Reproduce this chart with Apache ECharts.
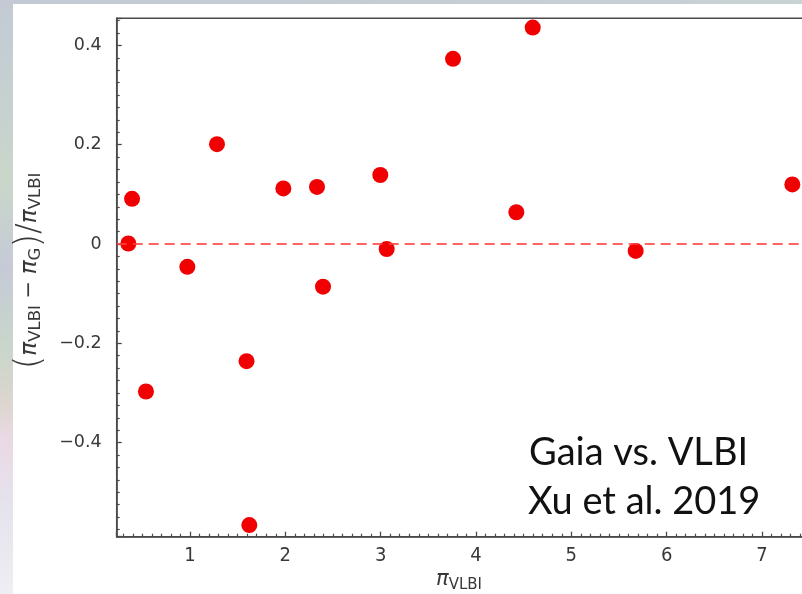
<!DOCTYPE html>
<html>
<head>
<meta charset="utf-8">
<script src="https://cdn.jsdelivr.net/npm/echarts@6/dist/echarts.min.js"></script>
<style>
  html, body { margin: 0; padding: 0; background: #ffffff; }
  #chart { width: 802px; height: 594px; }
</style>
</head>
<body>
<div id="chart"></div>
<script>
// VLBI parallax (mas) and relative parallax difference (VLBI - Gaia) / VLBI
const parallaxVLBI = [0.353, 0.392, 0.538, 0.972, 1.283, 1.593, 1.622, 1.979, 2.332,
                      2.395, 2.996, 3.063, 3.759, 4.423, 4.595, 5.675, 7.318];
const relativeDiff = [0.001, 0.091, -0.297, -0.046, 0.201, -0.236, -0.566, 0.112, 0.115,
                      -0.086, 0.139, -0.010, 0.373, 0.064, 0.436, -0.014, 0.120];

// axis ranges and labelled tick values
const xRange = [0.231, 7.6];
const yRange = [-0.5895, 0.4546];
const xTickValues = [1, 2, 3, 4, 5, 6, 7];
const yTickValues = [-0.4, -0.2, 0, 0.2, 0.4];
const zeroLevel = [0];

const points = parallaxVLBI.map((x, i) => [x, relativeDiff[i]]);

const ink = '#383838';
const frame = '#4a4a4a';

function fmtY(v) {
  const r = +v.toFixed(2);
  if (!yTickValues.some(t => Math.abs(t - r) < 1e-6)) return '';
  if (r === 0) return '0';
  return (r < 0 ? '\u2212' : '') + Math.abs(r).toFixed(1);
}
function fmtX(v) {
  const r = Math.round(v * 1000) / 1000;
  return xTickValues.includes(r) ? String(r) : '';
}

const chart = echarts.init(document.getElementById('chart'), null, { renderer: 'canvas' });

const option = {
  animation: false,
  backgroundColor: 'transparent',
  graphic: [
    // soft slide backdrop along the left and top edges
    {
      type: 'rect', z: -10, silent: true,
      shape: { x: 0, y: 0, width: 802, height: 594 },
      style: {
        fill: new echarts.graphic.LinearGradient(0, 0, 0, 1, [
          { offset: 0.0, color: '#c3cad5' },
          { offset: 0.2, color: '#c6d2cf' },
          { offset: 0.3, color: '#c9d7c9' },
          { offset: 0.45, color: '#c6cad7' },
          { offset: 0.58, color: '#c8d6cb' },
          { offset: 0.68, color: '#ddd6cf' },
          { offset: 0.74, color: '#ead9e5' },
          { offset: 0.85, color: '#e5e3ec' },
          { offset: 1.0, color: '#eeeef3' }
        ])
      }
    },
    {
      type: 'rect', z: -9, silent: true,
      shape: { x: 0, y: 0, width: 802, height: 4 },
      style: {
        fill: new echarts.graphic.LinearGradient(0, 0, 1, 0, [
          { offset: 0, color: '#c3cad5' },
          { offset: 0.5, color: '#c6ccd4' },
          { offset: 1, color: '#c7d3d5' }
        ])
      }
    },
    {
      type: 'rect', z: -8, silent: true,
      shape: { x: 13, y: 4, width: 789, height: 590 },
      style: { fill: '#ffffff' }
    },
    // y-axis title
    {
      type: 'text', z: 10, silent: true,
      x: 30, y: 271, rotation: Math.PI / 2,
      style: {
        text: '{par|(}{pi|\u03c0}{sub|VLBI}{op| \u2212 }{pi|\u03c0}{sub|G}{par|)}{sl|/}{pi|\u03c0}{sub|VLBI}',
        align: 'center', verticalAlign: 'middle',
        fill: ink,
        rich: {
          par: { fontFamily: 'DejaVu Sans', fontSize: 35, fill: ink, fontWeight: 'lighter' },
          pi: { fontFamily: 'DejaVu Sans', fontStyle: 'italic', fontSize: 23, fill: ink },
          sub: { fontFamily: 'DejaVu Sans', fontSize: 16.5, fill: ink, padding: [12, 0, 0, 0] },
          op: { fontFamily: 'DejaVu Sans', fontSize: 21, fill: ink },
          sl: { fontFamily: 'DejaVu Sans', fontSize: 32, fill: ink, fontWeight: 'lighter' }
        }
      }
    },
    // x-axis title
    {
      type: 'text', z: 10, silent: true,
      x: 459, y: 580,
      style: {
        text: '{pi|\u03c0}{sub|VLBI}',
        align: 'center', verticalAlign: 'middle',
        fill: ink,
        rich: {
          pi: { fontFamily: 'DejaVu Sans', fontStyle: 'italic', fontSize: 21, fill: ink },
          sub: { fontFamily: 'DejaVu Sans', fontSize: 15, fill: ink, padding: [11, 0, 0, 0] }
        }
      }
    },
    // annotation
    {
      type: 'text', z: 10, silent: true,
      x: 529, y: 453,
      style: { text: 'Gaia vs. VLBI', fontFamily: 'Lato', fontSize: 38, fill: '#111111', verticalAlign: 'middle' }
    },
    {
      type: 'text', z: 10, silent: true,
      x: 528, y: 502,
      style: { text: 'Xu et al. 2019', fontFamily: 'Lato', fontSize: 38, fill: '#111111', verticalAlign: 'middle' }
    }
  ],
  grid: {
    left: 116.7, top: 18.3, width: 702.5, height: 518.4,
    outerBoundsMode: 'none',
    containLabel: false,
    show: true, borderColor: frame, borderWidth: 1.5, backgroundColor: 'transparent'
  },
  xAxis: {
    type: 'value',
    min: xRange[0], max: xRange[1],
    splitNumber: 7, minInterval: 1, maxInterval: 1,
    axisLine: { show: true, onZero: false, lineStyle: { color: frame, width: 1.5 } },
    axisTick: { show: true, inside: true, length: 5, lineStyle: { color: frame, width: 1.3 } },
    minorTick: { show: true, splitNumber: 10, length: 3, lineStyle: { color: frame, width: 1.2 } },
    splitLine: { show: false },
    axisLabel: {
      show: true, margin: 9, formatter: fmtX,
      fontFamily: 'DejaVu Sans Condensed, DejaVu Sans', fontSize: 20, color: ink
    }
  },
  yAxis: {
    type: 'value',
    min: yRange[0], max: yRange[1],
    splitNumber: 5, minInterval: 0.2, maxInterval: 0.2,
    axisLine: { show: true, onZero: false, lineStyle: { color: frame, width: 1.5 } },
    axisTick: { show: true, inside: true, length: 5, lineStyle: { color: frame, width: 1.3 } },
    minorTick: { show: true, splitNumber: 8, length: 3, lineStyle: { color: frame, width: 1.2 } },
    splitLine: { show: false },
    axisLabel: {
      show: true, margin: 15, formatter: fmtY,
      fontFamily: 'DejaVu Sans', fontSize: 17.5, color: ink
    }
  },
  series: [
    {
      name: 'zero',
      type: 'line',
      data: [],
      z: 1,
      markLine: {
        silent: true,
        symbol: ['none', 'none'],
        label: { show: false },
        lineStyle: { color: 'rgba(255,60,60,0.8)', type: [10, 6], width: 1.8, opacity: 1 },
        data: zeroLevel.map(v => ({ yAxis: v }))
      }
    },
    {
      name: 'parallax',
      type: 'scatter',
      z: 3,
      symbol: 'circle',
      symbolSize: 16,
      itemStyle: { color: '#f00000', opacity: 1 },
      data: points
    }
  ]
};

chart.setOption(option);
</script>
</body>
</html>
